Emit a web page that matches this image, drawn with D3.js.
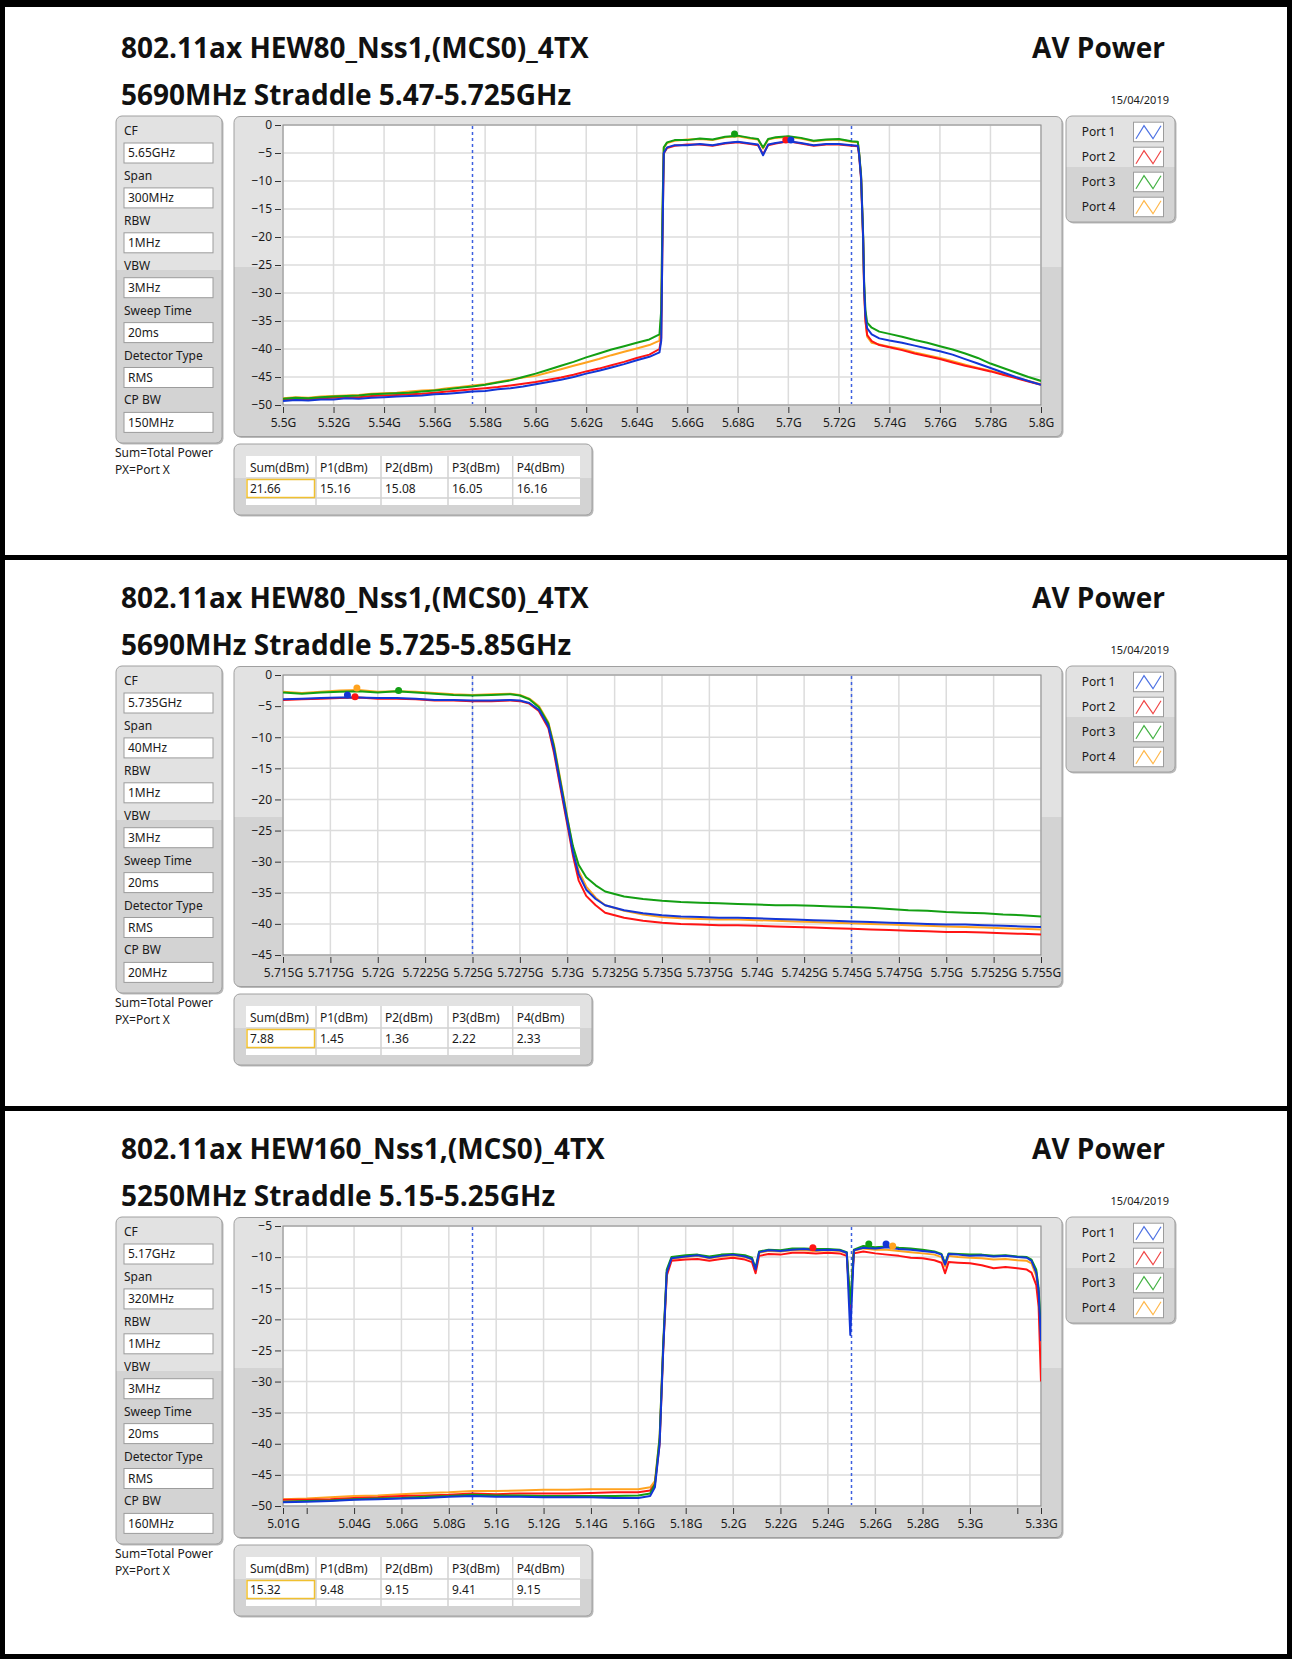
<!DOCTYPE html>
<html>
<head>
<meta charset="UTF-8">
<title>AV Power</title>
<script src="https://d3js.org/d3.v7.min.js"></script>
<style>
  body { margin: 0; background: #fff; }
  svg { display: block; font-family: "Noto Sans", "Open Sans", sans-serif; }
  .title { font-family: "Open Sans", "Noto Sans", sans-serif; font-weight: bold; font-size: 28px; fill: #111; }
  .lbl { font-size: 12px; fill: #1a1a1a; }
</style>
</head>
<body>
<svg id="chart" width="1292" height="1659"></svg>
<script>
// ---------------- data ----------------
const portNames = ["Port 1", "Port 2", "Port 3", "Port 4"];
const paramLabels = ["CF", "Span", "RBW", "VBW", "Sweep Time", "Detector Type", "CP BW"];
const tableHeaders = ["Sum(dBm)", "P1(dBm)", "P2(dBm)", "P3(dBm)", "P4(dBm)"];
const reportDate = "15/04/2019";

// chart 1 : 5.5 - 5.8 GHz
const c1Params = ["5.65GHz", "300MHz", "1MHz", "3MHz", "20ms", "RMS", "150MHz"];
const c1Table = ["21.66", "15.16", "15.08", "16.05", "16.16"];
const c1XTicks = [5.5, 5.52, 5.54, 5.56, 5.58, 5.6, 5.62, 5.64, 5.66, 5.68, 5.7, 5.72, 5.74, 5.76, 5.78, 5.8];
const c1YTicks = [0, -5, -10, -15, -20, -25, -30, -35, -40, -45, -50];
const c1Edges = [5.575, 5.725];
const c1Peaks = [[3, 5.6787, -1.6], [2, 5.699, -2.7], [1, 5.701, -2.7]];
const c1Freq = [
  5.500,5.505,5.510,5.515,5.520,5.525,5.530,5.535,5.540,5.545, 5.550,5.555,5.560,5.565,5.570,5.575,5.580,5.585,5.590,5.595, 5.600,5.605,5.610,5.615,5.620,5.625,5.630,5.635,5.640,5.645,
  5.649,5.6497,5.6502,5.6507,5.652,
  5.655,5.660,5.665,5.670,5.675,5.680,5.685,
  5.688,5.690,5.692,
  5.695,5.700,5.705,5.710,5.715,5.720,5.725,
  5.7275,5.728,5.7288,5.7296,5.7300,5.7305,5.7312,5.733,
  5.736,
  5.740,5.745,5.750,5.755,5.760,5.765,5.770,5.775,5.780,5.785,5.790,5.795,5.800];
const c1Port1 = [
  -49.3,-49.1,-49.2,-49.0,-49.0,-48.8,-48.9,-48.7,-48.6,-48.5, -48.4,-48.3,-48.1,-48.0,-47.8,-47.6,-47.5,-47.2,-47.0,-46.7, -46.3,-45.9,-45.5,-45.0,-44.4,-43.9,-43.3,-42.7,-42.0,-41.4,
  -40.6,-38.5,-20,-5.0,-4.0,
  -3.6,-3.6,-3.4,-3.6,-3.2,-3.0,-3.3,
  -3.5,-5.4,-3.5,
  -3.2,-2.9,-3.2,-3.6,-3.4,-3.4,-3.6,
  -3.7,-5.2,-9.5,-20,-29,-34,-36.3,-37.4,
  -38.1,
  -38.5,-38.9,-39.4,-39.9,-40.4,-41.0,-41.8,-42.6,-43.4,-44.2,-45.0,-45.7,-46.4];
const c1Port2 = [
  -49.0,-48.9,-49.0,-48.8,-48.7,-48.6,-48.6,-48.4,-48.3,-48.2, -48.1,-48.0,-47.8,-47.6,-47.4,-47.2,-47.0,-46.8,-46.5,-46.2, -45.9,-45.5,-45.1,-44.6,-44.0,-43.5,-42.9,-42.3,-41.6,-41.0,
  -40.0,-38,-20,-5.1,-4.1,
  -3.7,-3.5,-3.5,-3.7,-3.3,-3.1,-3.4,
  -3.6,-5.2,-3.6,
  -3.3,-2.9,-3.3,-3.7,-3.5,-3.5,-3.7,
  -3.8,-5.3,-9.7,-20.5,-29.5,-35,-37.5,-38.6,
  -39.3,
  -39.7,-40.2,-40.8,-41.3,-41.8,-42.4,-43.0,-43.5,-44.0,-44.6,-45.2,-45.8,-46.4];
const c1Port3 = [
  -48.9,-48.7,-48.8,-48.6,-48.5,-48.4,-48.3,-48.1,-48.0,-47.9, -47.8,-47.6,-47.4,-47.2,-46.9,-46.7,-46.4,-46.0,-45.6,-45.0, -44.4,-43.7,-43.0,-42.3,-41.5,-40.8,-40.1,-39.5,-38.9,-38.3,
  -37.4,-33,-15,-4.0,-3.1,
  -2.7,-2.7,-2.4,-2.6,-2.1,-1.9,-2.3,
  -2.5,-4.0,-2.5,
  -2.2,-2.0,-2.3,-2.8,-2.6,-2.5,-2.9,
  -3.0,-4.8,-9,-19.5,-28,-33,-35.3,-36.2,
  -36.9,
  -37.3,-37.8,-38.4,-38.9,-39.5,-40.1,-40.8,-41.6,-42.6,-43.4,-44.2,-45.0,-45.7];
const c1Port4 = [
  -48.8,-48.6,-48.7,-48.5,-48.4,-48.3,-48.2,-48.0,-47.9,-47.8, -47.6,-47.4,-47.3,-47.0,-46.8,-46.5,-46.3,-45.9,-45.5,-45.1, -44.8,-44.2,-43.6,-43.0,-42.4,-41.8,-41.1,-40.5,-39.9,-39.3,
  -38.5,-34,-16,-4.1,-3.2,
  -2.8,-2.6,-2.5,-2.7,-2.2,-2.0,-2.4,
  -2.6,-4.2,-2.6,
  -2.3,-2.1,-2.4,-2.9,-2.7,-2.6,-3.0,
  -3.1,-4.9,-9.2,-20,-29,-34.5,-37.8,-38.9,
  -39.2,
  -39.6,-40.0,-40.6,-41.1,-41.6,-42.2,-42.8,-43.4,-43.9,-44.5,-45.1,-45.7,-46.3];

// chart 2 : 5.715 - 5.755 GHz
const c2Params = ["5.735GHz", "40MHz", "1MHz", "3MHz", "20ms", "RMS", "20MHz"];
const c2Table = ["7.88", "1.45", "1.36", "2.22", "2.33"];
const c2XTicks = [5.715, 5.7175, 5.72, 5.7225, 5.725, 5.7275, 5.73, 5.7325, 5.735, 5.7375, 5.74, 5.7425, 5.745, 5.7475, 5.75, 5.7525, 5.755];
const c2YTicks = [0, -5, -10, -15, -20, -25, -30, -35, -40, -45];
const c2Edges = [5.725, 5.745];
const c2Peaks = [[1, 5.7184, -3.2], [4, 5.7189, -2.1], [2, 5.7188, -3.5], [3, 5.7211, -2.5]];
const c2Freq = [
  5.715,5.716,5.717,5.718,5.719,5.720,5.721,5.722,5.723,5.724,5.725,5.726,5.727,
  5.7275,5.728,5.7285,5.729,5.7293,5.7296,5.7300,5.7303,5.7306,5.7310,5.7315,5.7320,5.733,
  5.734,5.735,5.736,5.737,5.738,5.739,5.740,5.741,5.742,5.743,5.744,5.745,5.746,5.747,5.748,5.749,5.750,5.751,5.752,5.753,5.754,5.755];
const c2Port1 = [
  -3.9,-3.8,-3.7,-3.6,-3.6,-3.7,-3.7,-3.8,-4.0,-4.0,-4.1,-4.1,-4.0,
  -4.1,-4.5,-5.6,-8.2,-12,-17,-23.5,-28.5,-32,-34.5,-36.0,-37.0,-37.8,
  -38.3,-38.6,-38.8,-38.9,-39.0,-39.0,-39.1,-39.2,-39.3,-39.4,-39.5,-39.6,-39.7,-39.8,-39.9,-40.0,-40.1,-40.1,-40.2,-40.3,-40.4,-40.5];
const c2Port2 = [
  -4.0,-3.9,-3.8,-3.7,-3.6,-3.8,-3.8,-3.9,-4.1,-4.1,-4.2,-4.2,-4.1,
  -4.2,-4.6,-5.8,-8.5,-12.5,-17.5,-24,-29,-33,-35.5,-37.0,-38.2,-39.0,
  -39.5,-39.8,-40.0,-40.1,-40.2,-40.2,-40.3,-40.4,-40.5,-40.6,-40.7,-40.8,-40.9,-41.0,-41.1,-41.2,-41.3,-41.3,-41.4,-41.5,-41.6,-41.7];
const c2Port3 = [
  -2.8,-3.0,-2.8,-2.7,-2.6,-2.8,-2.6,-2.8,-3.0,-3.2,-3.3,-3.2,-3.1,
  -3.3,-3.9,-5.2,-7.8,-11.5,-16.5,-23,-27.5,-30.5,-32.5,-33.8,-34.8,-35.6,
  -36.0,-36.3,-36.5,-36.6,-36.7,-36.8,-36.9,-37.0,-37.0,-37.1,-37.2,-37.3,-37.4,-37.6,-37.8,-37.9,-38.1,-38.2,-38.3,-38.5,-38.6,-38.8];
const c2Port4 = [
  -2.7,-2.9,-2.7,-2.5,-2.4,-2.7,-2.6,-2.7,-2.9,-3.1,-3.2,-3.1,-3.0,
  -3.2,-3.8,-5.0,-7.6,-11.2,-16.2,-22.8,-28,-31.5,-34,-35.8,-37.0,-37.9,
  -38.5,-38.9,-39.1,-39.2,-39.3,-39.3,-39.4,-39.5,-39.6,-39.7,-39.8,-39.9,-40.0,-40.1,-40.2,-40.3,-40.4,-40.5,-40.6,-40.7,-40.8,-40.9];

// chart 3 : 5.01 - 5.33 GHz
const c3Params = ["5.17GHz", "320MHz", "1MHz", "3MHz", "20ms", "RMS", "160MHz"];
const c3Table = ["15.32", "9.48", "9.15", "9.41", "9.15"];
const c3XTicks = [5.01, 5.02, 5.04, 5.06, 5.08, 5.1, 5.12, 5.14, 5.16, 5.18, 5.2, 5.22, 5.24, 5.26, 5.28, 5.3, 5.32, 5.33];
const c3XHidden = [5.02, 5.32];
const c3YTicks = [-5, -10, -15, -20, -25, -30, -35, -40, -45, -50];
const c3Edges = [5.09, 5.25];
const c3Peaks = [[2, 5.2337, -8.5], [3, 5.2573, -7.9], [1, 5.2646, -7.9], [4, 5.2674, -8.2]];
const c3Freq = [
  5.01,5.02,5.03,5.04,5.05,5.06,5.07,5.08,5.09,5.10,5.11,5.12,5.13,5.14,5.15,5.16,
  5.165,5.167,5.169,5.1705,5.172,5.174,
  5.18,5.185,5.19,5.195,5.20,5.205,5.208,5.2095,5.211,
  5.215,5.22,5.225,5.23,5.235,5.24,5.245,5.248,5.2495,5.251,
  5.255,5.26,5.265,5.27,5.275,5.28,5.285,5.288,5.2895,5.291,
  5.295,5.30,5.305,5.31,5.315,5.32,5.324,5.326,5.328,5.329,5.33];
const c3Port1 = [
  -49.4,-49.3,-49.2,-49.0,-48.9,-48.8,-48.7,-48.5,-48.4,-48.5,-48.5,-48.6,-48.6,-48.6,-48.7,-48.7,
  -48.4,-47.0,-40,-25,-12.5,-10.2,
  -9.9,-9.7,-10.1,-9.8,-9.6,-9.9,-10.3,-12.0,-9.2,
  -8.9,-9.0,-8.8,-8.7,-8.9,-8.8,-8.9,-9.3,-22.5,-8.9,
  -8.5,-8.6,-8.4,-8.7,-8.8,-9.0,-9.2,-9.6,-11.2,-9.5,
  -9.6,-9.8,-9.7,-9.9,-9.8,-10.0,-10.1,-10.6,-12.5,-15.5,-23.5];
const c3Port2 = [
  -49.0,-49.0,-48.9,-48.7,-48.6,-48.4,-48.3,-48.2,-48.0,-48.1,-48.0,-48.0,-48.0,-47.9,-47.8,-47.8,
  -47.5,-46.5,-40,-25,-13,-10.6,
  -10.4,-10.3,-10.6,-10.3,-10.1,-10.4,-10.8,-12.6,-9.8,
  -9.5,-9.6,-9.3,-9.3,-9.4,-9.3,-9.4,-9.8,-18.5,-9.4,
  -9.1,-9.4,-9.6,-9.8,-10.1,-10.2,-10.5,-10.9,-12.6,-10.8,
  -10.9,-11.0,-11.3,-11.8,-11.6,-11.8,-12.0,-12.5,-14.5,-18,-30];
const c3Port3 = [
  -49.3,-49.2,-49.1,-48.9,-48.8,-48.7,-48.5,-48.4,-48.2,-48.3,-48.3,-48.4,-48.4,-48.4,-48.4,-48.3,
  -48.0,-46.5,-39,-24,-12,-10.0,
  -9.7,-9.6,-9.9,-9.6,-9.5,-9.7,-10.1,-11.8,-9.1,
  -8.8,-8.9,-8.6,-8.6,-8.7,-8.7,-8.8,-9.2,-17.5,-8.8,
  -8.2,-8.4,-8.3,-8.5,-8.6,-8.8,-9.1,-9.5,-11.0,-9.4,
  -9.5,-9.6,-9.6,-9.8,-9.7,-9.9,-10.0,-10.4,-12,-15,-22];
const c3Port4 = [
  -48.9,-48.8,-48.6,-48.4,-48.3,-48.1,-47.9,-47.8,-47.6,-47.6,-47.5,-47.4,-47.4,-47.3,-47.3,-47.3,
  -47.0,-46,-39,-24.5,-12.5,-10.3,
  -10.0,-9.8,-10.2,-9.9,-9.7,-10.0,-10.4,-12.1,-9.3,
  -9.0,-9.1,-8.9,-8.9,-9.0,-8.9,-9.0,-9.4,-18,-9.0,
  -8.6,-8.8,-8.8,-9.0,-9.2,-9.4,-9.6,-10.0,-11.5,-9.8,
  -10.0,-10.1,-10.2,-10.4,-10.3,-10.5,-10.6,-11.0,-13,-16,-23];

// ---------------- chart configs ----------------
const charts = [
  { oy: 0, title: "802.11ax HEW80_Nss1,(MCS0)_4TX", subtitle: "5690MHz Straddle 5.47-5.725GHz",
    params: c1Params, table: c1Table, freq: c1Freq, ports: [c1Port1, c1Port2, c1Port3, c1Port4],
    xTicks: c1XTicks, hidden: [], yTicks: c1YTicks, edges: c1Edges, peaks: c1Peaks },
  { oy: 550, title: "802.11ax HEW80_Nss1,(MCS0)_4TX", subtitle: "5690MHz Straddle 5.725-5.85GHz",
    params: c2Params, table: c2Table, freq: c2Freq, ports: [c2Port1, c2Port2, c2Port3, c2Port4],
    xTicks: c2XTicks, hidden: [], yTicks: c2YTicks, edges: c2Edges, peaks: c2Peaks },
  { oy: 1101, title: "802.11ax HEW160_Nss1,(MCS0)_4TX", subtitle: "5250MHz Straddle 5.15-5.25GHz",
    params: c3Params, table: c3Table, freq: c3Freq, ports: [c3Port1, c3Port2, c3Port3, c3Port4],
    xTicks: c3XTicks, hidden: c3XHidden, yTicks: c3YTicks, edges: c3Edges, peaks: c3Peaks }
];

const portColors = ["#1336d6", "#ff1414", "#139f13", "#ffa31f"];
const iconColors = ["#4f73e3", "#f04848", "#45b245", "#ffb84d"];
const drawOrder = [3, 1, 2, 0];   // blue ends up on top
const fmtG = v => (+v.toFixed(4)) + "G";

const svg = d3.select("#chart");
const defs = svg.append("defs");
svg.append("rect").attr("width", 1292).attr("height", 1659).attr("fill", "#fff");

let gid = 0;
// LabVIEW style grey cluster box, lighter top part / darker bottom part
function panelBox(g, x, y, w, h, split) {
  const id = "pg" + (gid++);
  const grad = defs.append("linearGradient").attr("id", id)
    .attr("x1", 0).attr("y1", 0).attr("x2", 0).attr("y2", 1);
  grad.append("stop").attr("offset", split).attr("stop-color", "#e2e2e2");
  grad.append("stop").attr("offset", split).attr("stop-color", "#d3d3d3");
  g.append("rect").attr("x", x + 1.5).attr("y", y + 1.5).attr("width", w).attr("height", h)
    .attr("rx", 6).attr("fill", "#b9b9b9");
  g.append("rect").attr("x", x).attr("y", y).attr("width", w).attr("height", h)
    .attr("rx", 6).attr("fill", `url(#${id})`).attr("stroke", "#a0a0a0");
}

function drawChart(c, idx) {
  const g = svg.append("g").attr("transform", `translate(0,${c.oy})`);

  // headings
  g.append("text").attr("class", "title").attr("x", 121).attr("y", 58).text(c.title);
  g.append("text").attr("class", "title").attr("x", 121).attr("y", 105).text(c.subtitle);
  g.append("text").attr("class", "title").attr("x", 1165).attr("y", 58)
    .attr("text-anchor", "end").text("AV Power");
  g.append("text").attr("x", 1169).attr("y", 104).attr("text-anchor", "end")
    .attr("font-size", 11).attr("fill", "#1a1a1a").text(reportDate);

  // settings cluster
  panelBox(g, 116, 116, 106, 327, 0.47);
  paramLabels.forEach((lab, k) => {
    const y0 = 130.7 + k * 44.9;
    g.append("text").attr("class", "lbl").attr("x", 124).attr("y", y0 + 4.3).text(lab);
    g.append("rect").attr("x", 124).attr("y", y0 + 12.3).attr("width", 89).attr("height", 20)
      .attr("fill", "#fff").attr("stroke", "#9c9c9c");
    g.append("text").attr("class", "lbl").attr("x", 128).attr("y", y0 + 26.6).text(c.params[k]);
  });
  g.append("text").attr("class", "lbl").attr("x", 115).attr("y", 456.5).text("Sum=Total Power");
  g.append("text").attr("class", "lbl").attr("x", 115).attr("y", 473.5).text("PX=Port X");

  // graph
  panelBox(g, 234, 116.5, 828, 320, 0.47);
  const x = d3.scaleLinear().domain([c.xTicks[0], c.xTicks[c.xTicks.length - 1]]).range([283, 1041]);
  const y = d3.scaleLinear().domain([c.yTicks[0], c.yTicks[c.yTicks.length - 1]]).range([125, 405]);

  g.append("rect").attr("x", 283).attr("y", 125).attr("width", 758).attr("height", 280).attr("fill", "#fff");
  g.append("g").selectAll("line").data(c.xTicks).join("line")
    .attr("x1", d => x(d)).attr("x2", d => x(d)).attr("y1", 125).attr("y2", 405)
    .attr("stroke", "#dcdcdc").attr("stroke-width", 1.5);
  g.append("g").selectAll("line").data(c.yTicks).join("line")
    .attr("x1", 283).attr("x2", 1041).attr("y1", d => y(d)).attr("y2", d => y(d))
    .attr("stroke", "#dcdcdc").attr("stroke-width", 1.5);
  g.append("rect").attr("x", 283).attr("y", 125).attr("width", 758).attr("height", 280)
    .attr("fill", "none").attr("stroke", "#8a8a8a");

  const xAx = g.append("g").attr("transform", "translate(0,407)")
    .call(d3.axisBottom(x).tickValues(c.xTicks).tickSizeInner(6).tickSizeOuter(0).tickPadding(5)
      .tickFormat(v => c.hidden.includes(v) ? "" : fmtG(v)));
  const yAx = g.append("g").attr("transform", "translate(281,0)")
    .call(d3.axisLeft(y).tickValues(c.yTicks).tickSizeInner(6).tickSizeOuter(0).tickPadding(3));
  [xAx, yAx].forEach(a => {
    a.select(".domain").remove();
    a.attr("font-family", null).attr("font-size", null);
    a.selectAll("line").attr("stroke", "#333");
    a.selectAll("text").attr("font-size", 12).attr("fill", "#1a1a1a");
  });

  // straddle band edges
  g.append("g").selectAll("line").data(c.edges).join("line")
    .attr("x1", d => x(d)).attr("x2", d => x(d)).attr("y1", 126).attr("y2", 404)
    .attr("stroke", "#3d5fe0").attr("stroke-width", 1.5).attr("stroke-dasharray", "3,3");

  // traces
  const clipId = "clip" + idx;
  defs.append("clipPath").attr("id", clipId).append("rect")
    .attr("x", 283).attr("y", 125).attr("width", 758).attr("height", 280);
  const traces = g.append("g").attr("clip-path", `url(#${clipId})`);
  const line = d3.line().x(d => x(d[0])).y(d => y(d[1]));
  drawOrder.forEach(p => {
    const pts = c.freq.map((f, i) => [f, c.ports[p][i]]);
    traces.append("path").datum(pts).attr("d", line).attr("fill", "none")
      .attr("stroke", portColors[p]).attr("stroke-width", 2).attr("stroke-linejoin", "round");
  });
  traces.selectAll("circle").data(c.peaks).join("circle")
    .attr("cx", d => x(d[1])).attr("cy", d => y(d[2])).attr("r", 3.5)
    .attr("fill", d => portColors[d[0] - 1]);

  // legend
  panelBox(g, 1066, 116, 109, 106, 0.48);
  portNames.forEach((name, k) => {
    const cy = 131.7 + k * 25;
    g.append("text").attr("class", "lbl").attr("x", 1081.7).attr("y", cy + 4.3).text(name);
    g.append("rect").attr("x", 1133.5).attr("y", cy - 9.5).attr("width", 30).attr("height", 19.5)
      .attr("fill", "#fff").attr("stroke", "#9c9c9c");
    g.append("polyline").attr("points",
      [[1136, cy + 7], [1144, cy - 6], [1153, cy + 7], [1161, cy - 6]].map(p => p.join(",")).join(" "))
      .attr("fill", "none").attr("stroke", iconColors[k]).attr("stroke-width", 1.2);
  });

  // power table
  panelBox(g, 234, 444, 358, 71, 0.48);
  const cols = [246, 316, 381, 448, 512.7, 580];
  g.append("rect").attr("x", 246).attr("y", 456).attr("width", 334).attr("height", 49).attr("fill", "#fff");
  [478, 498].forEach(yy => g.append("line").attr("x1", 246).attr("x2", 580).attr("y1", yy).attr("y2", yy)
    .attr("stroke", "#d2d2d2").attr("stroke-width", 1.5));
  cols.slice(1, 5).forEach(xx => g.append("line").attr("x1", xx).attr("x2", xx).attr("y1", 456).attr("y2", 505)
    .attr("stroke", "#d2d2d2").attr("stroke-width", 1.5));
  tableHeaders.forEach((h, k) => {
    g.append("text").attr("class", "lbl").attr("x", cols[k] + 4).attr("y", 471.5).text(h);
    g.append("text").attr("class", "lbl").attr("x", cols[k] + 4).attr("y", 493).text(c.table[k]);
  });
  g.append("rect").attr("x", 247).attr("y", 479.5).attr("width", 67.5).attr("height", 18)
    .attr("fill", "none").attr("stroke", "#f0c030").attr("stroke-width", 1.5);
}

charts.forEach(drawChart);

// black frame and separators of the report page
const frame = [[0, 0, 1292, 7], [0, 0, 5, 1659], [1287, 0, 5, 1659], [0, 1654, 1292, 5],
               [0, 555, 1292, 5], [0, 1106, 1292, 5]];
svg.append("g").selectAll("rect").data(frame).join("rect")
  .attr("x", d => d[0]).attr("y", d => d[1]).attr("width", d => d[2]).attr("height", d => d[3])
  .attr("fill", "#000");
</script>
</body>
</html>
